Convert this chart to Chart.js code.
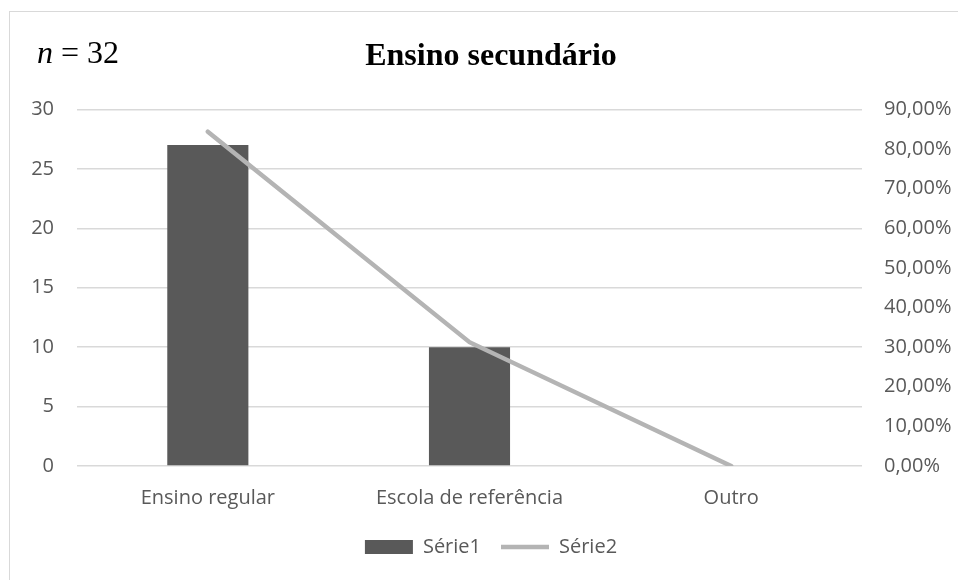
<!DOCTYPE html>
<html>
<head>
<meta charset="utf-8">
<script src="https://cdn.jsdelivr.net/npm/chart.js@4"></script>
<style>
  html, body { margin: 0; padding: 0; background: #fff; }
  #wrap { position: relative; width: 958px; height: 580px; overflow: hidden; }
  #frame { position: absolute; left: 9px; top: 11px; width: 1200px; height: 1200px;
           border: 1.5px solid #d9d9d9; box-sizing: border-box; }
  #nlabel { position: absolute; left: 37px; top: 36px; font: 32px/32px "Liberation Serif", serif; color: #000; }
  canvas { position: absolute; left: 0; top: 0; }
</style>
</head>
<body>
<div id="wrap">
  <div id="frame"></div>
  <!-- the chart frame runs past the right edge of the picture, so the canvas does too -->
  <canvas id="chart" width="982" height="580"></canvas>
  <div id="nlabel"><i>n</i> = 32</div>
</div>
<script>
const categories = ["Ensino regular", "Escola de referência", "Outro"];
const serie1 = [27, 10, 0];
const serie2 = [0.8438, 0.3125, 0];
const leftTicks = [0, 5, 10, 15, 20, 25, 30];
const rightTicks = [0, 0.1, 0.2, 0.3, 0.4, 0.5, 0.6, 0.7, 0.8, 0.9];

const tickFont = { family: "'Open Sans', sans-serif", size: 20 };
const grey = "#595959";

new Chart(document.getElementById("chart"), {
  data: {
    labels: categories,
    datasets: [
      {
        type: "bar",
        label: "Série1",
        data: serie1,
        backgroundColor: "#595959",
        borderWidth: 0,
        categoryPercentage: 1,
        barPercentage: 0.31,
        pointStyle: "rect",
        yAxisID: "y",
      },
      {
        type: "line",
        label: "Série2",
        data: serie2,
        borderColor: "#b4b4b4",
        backgroundColor: "#b4b4b4",
        borderWidth: 4.5,
        borderCapStyle: "round",
        pointRadius: 0,
        pointStyle: "line",
        tension: 0,
        order: -1,
        yAxisID: "y1",
      },
    ],
  },
  options: {
    responsive: false,
    animation: false,
    layout: { padding: { left: 0, right: 0, top: 0, bottom: 13 } },
    plugins: {
      tooltip: { enabled: false },
      title: {
        display: true,
        text: "Ensino secundário",
        color: "#000",
        font: { family: "'Liberation Serif', serif", size: 32, weight: "bold" },
        padding: { top: 38, bottom: 33 },
      },
      legend: {
        position: "bottom",
        labels: {
          usePointStyle: true,
          pointStyleWidth: 48,
          boxHeight: 14,
          padding: 20,
          color: grey,
          font: tickFont,
          sort: (a, b) => a.datasetIndex - b.datasetIndex,
        },
      },
    },
    scales: {
      x: {
        grid: { display: false },
        border: { display: false },
        ticks: { color: grey, font: tickFont, padding: 12 },
        afterFit: (s) => { s.height = 51; },
      },
      y: {
        position: "left",
        min: 0,
        max: 30,
        afterBuildTicks: (s) => { s.ticks = leftTicks.map((v) => ({ value: v })); },
        grid: { color: "#d9d9d9", drawTicks: false, lineWidth: 1.5 },
        border: { display: false },
        ticks: { color: grey, font: tickFont, padding: 23 },
        afterFit: (s) => { s.width = 77; },
      },
      y1: {
        position: "right",
        min: 0,
        max: 0.9,
        afterBuildTicks: (s) => { s.ticks = rightTicks.map((v) => ({ value: v })); },
        grid: { display: false, drawTicks: false },
        border: { display: false },
        ticks: {
          color: grey,
          font: tickFont,
          padding: 22,
          callback: (v) => (v * 100).toFixed(2).replace(".", ",") + "%",
        },
        afterFit: (s) => { s.width = 120; },
      },
    },
  },
});
</script>
</body>
</html>
